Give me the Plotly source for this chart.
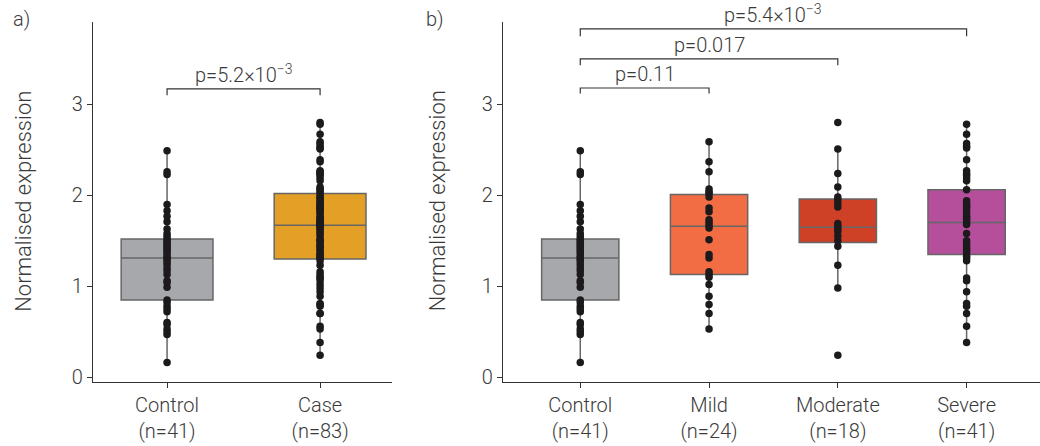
import plotly.graph_objects as go

# ---------------- data ----------------
control = [0.16, 0.47, 0.50, 0.53, 0.58, 0.60, 0.72, 0.75, 0.78, 0.82,
           0.85,
           0.99, 1.04, 1.06, 1.13, 1.17, 1.20, 1.24, 1.27, 1.29,
           1.31,
           1.33, 1.36, 1.38, 1.40, 1.42, 1.44, 1.46, 1.48, 1.50,
           1.52,
           1.55, 1.58, 1.63, 1.71, 1.77, 1.83, 1.90, 2.23, 2.26, 2.49]
mild = [0.53, 0.70, 0.80, 0.89, 1.02, 1.10, 1.13, 1.16, 1.31, 1.35, 1.51, 1.64,
        1.67, 1.70, 1.73, 1.82, 1.86, 1.98, 2.02, 2.04, 2.07, 2.26, 2.37, 2.59]
moderate = [0.24, 0.98, 1.23, 1.44, 1.50, 1.55, 1.60, 1.63, 1.66, 1.69, 1.87,
            1.91, 1.95, 1.98, 2.09, 2.24, 2.51, 2.80]
severe = [0.38, 0.56, 0.70, 0.78, 0.81, 0.94, 1.06, 1.09, 1.28, 1.31, 1.33, 1.36,
          1.39, 1.41, 1.44, 1.47, 1.50, 1.58, 1.68, 1.70, 1.73, 1.75, 1.77, 1.80,
          1.83, 1.86, 1.88, 1.91, 1.94, 2.06, 2.16, 2.19, 2.22, 2.24, 2.27, 2.39,
          2.52, 2.54, 2.57, 2.67, 2.78]
case = mild + moderate + severe

# box statistics: [q1, median, q3, lower whisker, upper whisker]
stats_a = {"Control": [0.85, 1.31, 1.52, 0.16, 2.49],
           "Case": [1.30, 1.67, 2.02, 0.24, 2.80]}
stats_b = {"Control": [0.85, 1.31, 1.52, 0.16, 2.49],
           "Mild": [1.13, 1.66, 2.01, 0.53, 2.59],
           "Moderate": [1.48, 1.65, 1.96, 0.98, 2.51],
           "Severe": [1.35, 1.70, 2.06, 0.38, 2.78]}

labels_a = ["Control<br>(n=41)", "Case<br>(n=83)"]
labels_b = ["Control<br>(n=41)", "Mild<br>(n=24)", "Moderate<br>(n=18)", "Severe<br>(n=41)"]

pvals_a = ["p=5.2×10<sup>−3</sup>"]
pvals_b = ["p=0.11", "p=0.017", "p=5.4×10<sup>−3</sup>"]

colors = {"Control": "#a7a8ab", "Case": "#e49f27", "Mild": "#f26d43",
          "Moderate": "#cf4126", "Severe": "#b54f9b"}

# ---------------- figure ----------------
FONT = "Roboto"
TXT = "#3a3a3a"
FS = 20
W, H = 1040, 446

fig = go.Figure()

def add_panel(stats, points, xa, ya):
    for i, (name, s) in enumerate(stats.items()):
        fig.add_trace(go.Box(
            x=[i], q1=[s[0]], median=[s[1]], q3=[s[2]],
            lowerfence=[s[3]], upperfence=[s[4]],
            width=0.6, whiskerwidth=0, fillcolor=colors[name],
            line=dict(color="#666666", width=1.5),
            boxpoints=False, showlegend=False, hoverinfo="skip",
            xaxis=xa, yaxis=ya))
    for i, vals in enumerate(points):
        fig.add_trace(go.Scatter(
            x=[i] * len(vals), y=vals, mode="markers",
            marker=dict(color="#1c1a1c", size=7.5, line=dict(width=0)),
            showlegend=False, hoverinfo="skip", xaxis=xa, yaxis=ya))

add_panel(stats_a, [control, case], "x", "y")
add_panel(stats_b, [control, mild, moderate, severe], "x2", "y2")

def px2x(p):
    return p / W

def py2y(p):
    return 1 - p / H

yr = [-0.048, 3.91]
axis_common = dict(showline=True, linecolor="#333333", linewidth=1.2,
                   ticks="outside", ticklen=5, tickcolor="#333333",
                   showgrid=False, zeroline=False,
                   tickfont=dict(family=FONT, size=FS, color=TXT, weight=300))

fig.update_layout(
    width=W, height=H,
    margin=dict(l=0, r=0, t=0, b=0),
    paper_bgcolor="white", plot_bgcolor="white",
    xaxis=dict(domain=[px2x(93), px2x(392)], range=[-0.484, 1.47],
               tickvals=[0, 1], ticktext=labels_a, anchor="y", **axis_common),
    yaxis=dict(domain=[py2y(388.5), py2y(22)], range=yr,
               tickvals=[0, 1, 2, 3], anchor="x", **axis_common),
    xaxis2=dict(domain=[px2x(503), 1.0], range=[-0.6, 3.57],
                tickvals=[0, 1, 2, 3], ticktext=labels_b, anchor="y2", **axis_common),
    yaxis2=dict(domain=[py2y(388.5), py2y(22)], range=yr,
                tickvals=[0, 1, 2, 3], anchor="x2", **axis_common),
)

# brackets
def bracket(x0, x1, yh, yl, xa, ya):
    fig.add_shape(type="path",
                  path=f"M {x0} {yl} L {x0} {yh} L {x1} {yh} L {x1} {yl}",
                  xref=xa, yref=ya, line=dict(color="#333333", width=1.2))

pfont = dict(family=FONT, size=FS, color=TXT, weight=300)

bracket(0, 1, 3.17, 3.10, "x", "y")
fig.add_annotation(x=0.5, y=3.17, xref="x", yref="y", text=pvals_a[0],
                   showarrow=False, yanchor="bottom", yshift=0, font=pfont)

b_levels = [(1, 3.18, 3.12), (2, 3.50, 3.43), (3, 3.83, 3.75)]
for (xe, yh, yl), txt in zip(b_levels, pvals_b):
    bracket(0, xe, yh, yl, "x2", "y2")
    fig.add_annotation(x=xe / 2, y=yh, xref="x2", yref="y2", text=txt,
                       showarrow=False, yanchor="bottom", yshift=0, font=pfont)

# y titles
for xp in (23.5, 437):
    fig.add_annotation(x=px2x(xp), y=py2y(205), xref="paper", yref="paper",
                       text="Normalised expression", textangle=-90,
                       showarrow=False, xanchor="center", yanchor="middle",
                       font=dict(family=FONT, size=22, color=TXT, weight=300))

# panel labels
for xp, lab in ((21, "a)"), (435, "b)")):
    fig.add_annotation(x=px2x(xp), y=py2y(19), xref="paper", yref="paper",
                       text=lab, showarrow=False, xanchor="center", yanchor="middle",
                       font=pfont)

fig.write_html("out.html")
